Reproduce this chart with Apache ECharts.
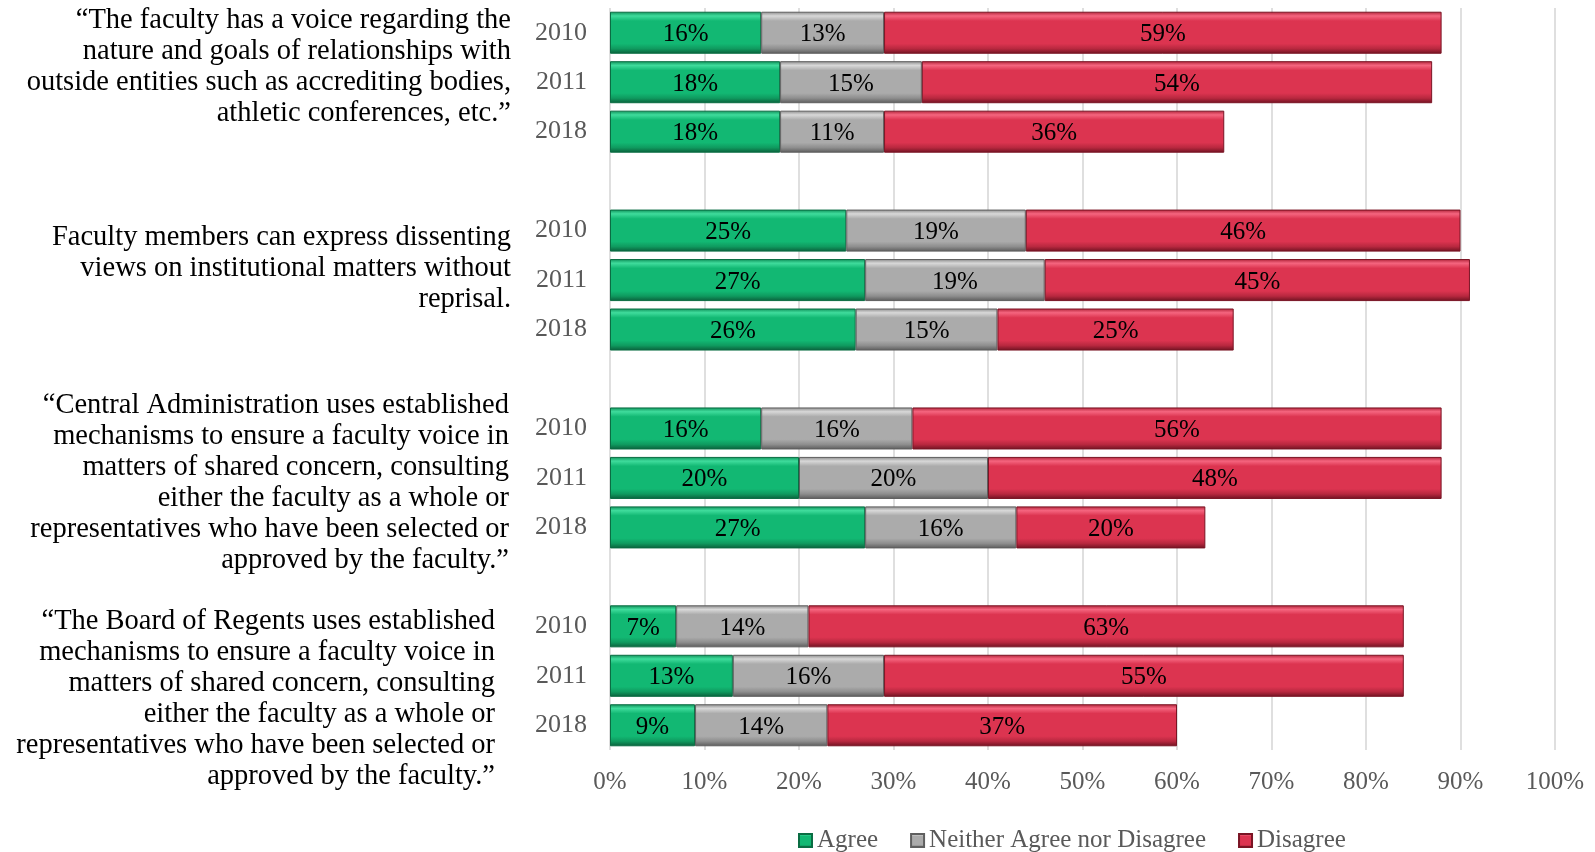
<!DOCTYPE html>
<html>
<head>
<meta charset="utf-8">
<script src="https://cdn.jsdelivr.net/npm/echarts@6/dist/echarts.min.js"></script>
<style>
  html, body { margin: 0; padding: 0; background: #fff; }
  #chart { width: 1595px; height: 852px; }
</style>
</head>
<body>
<div id="chart"></div>
<script>
// survey years shown for every statement
var years = ['2010', '2011', '2018'];

// statements (one per group, top to bottom)
var statements = [
  '\u201cThe faculty has a voice regarding the\nnature and goals of relationships with\noutside entities such as accrediting bodies,\nathletic conferences, etc.\u201d',
  'Faculty members can express dissenting\nviews on institutional matters without\nreprisal.',
  '\u201cCentral Administration uses established\nmechanisms to ensure a faculty voice in\nmatters of shared concern, consulting\neither the faculty as a whole or\nrepresentatives who have been selected or\napproved by the faculty.\u201d',
  '\u201cThe Board of Regents uses established\nmechanisms to ensure a faculty voice in\nmatters of shared concern, consulting\neither the faculty as a whole or\nrepresentatives who have been selected or\napproved by the faculty.\u201d'
];

// percentages per statement, in the order 2010, 2011, 2018
var agree    = [[16, 18, 18], [25, 27, 26], [16, 20, 27], [7, 13, 9]];
var neither  = [[13, 15, 11], [19, 19, 15], [16, 20, 16], [14, 16, 14]];
var disagree = [[59, 54, 36], [46, 45, 25], [56, 48, 20], [63, 55, 37]];

var xTicks = [0, 10, 20, 30, 40, 50, 60, 70, 80, 90, 100];

// layout of the statement text blocks (right edge, centre of first line)
var textRight = [511, 511, 509, 495];
var textTop = [21, 238, 406, 622];
var lineH = 31;

var serif = '"Liberation Serif", "Times New Roman", serif';

// category list with an empty slot between groups
var cats = [];
function flat(arr) {
  var out = [];
  arr.forEach(function (g, i) {
    g.forEach(function (v) { out.push(v); });
    if (i < arr.length - 1) out.push('-');
  });
  return out;
}
statements.forEach(function (s, i) {
  years.forEach(function (y) { cats.push(y); });
  if (i < statements.length - 1) cats.push('');
});

function bevel(top, light, main, dark, edge) {
  return {
    type: 'linear', x: 0, y: 0, x2: 0, y2: 1,
    colorStops: [
      { offset: 0, color: top },
      { offset: 0.1, color: light },
      { offset: 0.22, color: main },
      { offset: 0.76, color: main },
      { offset: 0.88, color: dark },
      { offset: 1, color: edge }
    ]
  };
}

var graphics = [];
statements.forEach(function (s, i) {
  s.split('\n').forEach(function (line, j) {
    graphics.push({
      type: 'text',
      x: textRight[i],
      y: textTop[i] + j * lineH,
      style: {
        text: line,
        fill: '#000',
        font: '28.5px ' + serif,
        textAlign: 'right',
        textVerticalAlign: 'middle',
        align: 'right',
        verticalAlign: 'middle'
      }
    });
  });
});

var labelStyle = {
  show: true,
  position: 'inside',
  offset: [0, 2],
  formatter: '{c}%',
  color: '#000',
  fontSize: 25,
  fontFamily: serif
};

var chart = echarts.init(document.getElementById('chart'));
chart.setOption({
  animation: false,
  grid: { left: 610, right: 40, top: 8, bottom: 102 },
  legend: {
    left: 793, top: 823,
    icon: 'rect', itemWidth: 13, itemHeight: 13, itemGap: 32,
    textStyle: { color: '#595959', fontSize: 25, fontFamily: serif }
  },
  xAxis: {
    type: 'value', min: 0, max: 100, interval: 10,
    axisLine: { show: false }, axisTick: { show: false },
    splitLine: { lineStyle: { color: '#d4d4d4', width: 1.5 } },
    axisLabel: {
      formatter: function (v) { return xTicks.indexOf(v) >= 0 ? v + '%' : ''; },
      color: '#595959', fontSize: 25, fontFamily: serif, margin: 20
    }
  },
  yAxis: {
    type: 'category', inverse: true, data: cats,
    axisLine: { show: false }, axisTick: { show: false },
    axisLabel: { color: '#595959', fontSize: 26, fontFamily: serif, margin: 23, padding: [5, 0, 0, 0] }
  },
  graphic: graphics,
  series: [
    {
      name: 'Agree', type: 'bar', stack: 'total', barWidth: '85%',
      data: flat(agree), label: labelStyle,
      itemStyle: { color: bevel('#0e8f58', '#3fdc9c', '#12b873', '#0f9a5f', '#0a5e3a'), borderColor: '#0a6d43', borderWidth: 1 }
    },
    {
      name: 'Neither Agree nor Disagree', type: 'bar', stack: 'total', barWidth: '85%',
      data: flat(neither), label: labelStyle,
      itemStyle: { color: bevel('#8a8a8a', '#d8d8d8', '#ababab', '#8e8e8e', '#5a5a5a'), borderColor: '#5f5f5f', borderWidth: 1 }
    },
    {
      name: 'Disagree', type: 'bar', stack: 'total', barWidth: '85%',
      data: flat(disagree), label: labelStyle,
      itemStyle: { color: bevel('#b02238', '#f5657f', '#dc3450', '#b8283f', '#6e1221'), borderColor: '#7a1424', borderWidth: 1 }
    }
  ]
});
</script>
</body>
</html>
